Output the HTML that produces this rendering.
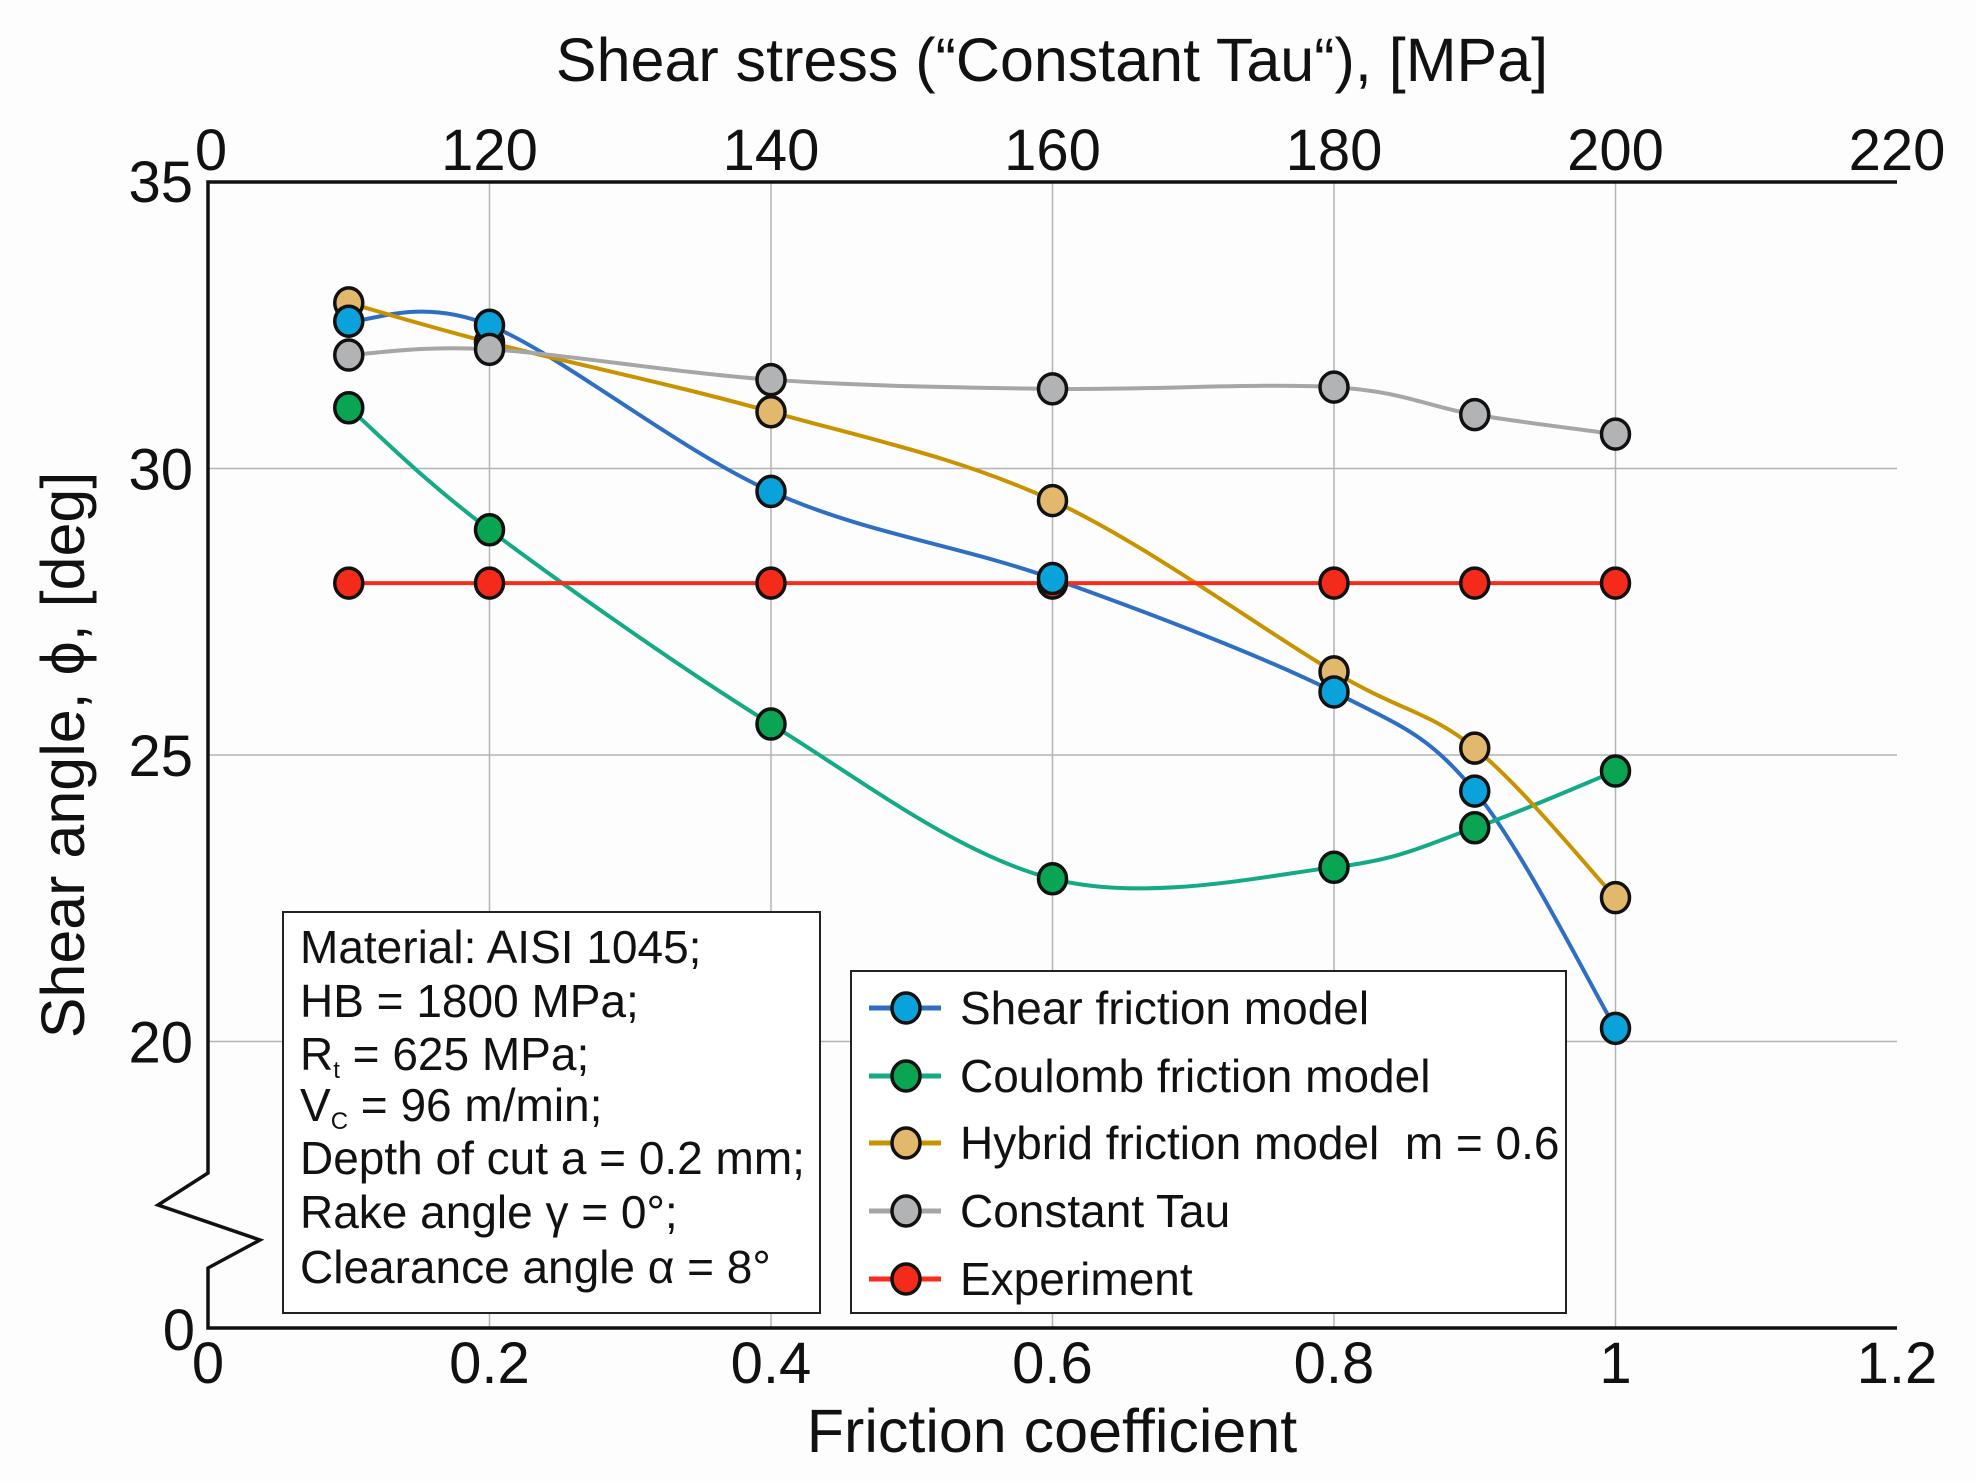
<!DOCTYPE html>
<html><head><meta charset="utf-8">
<style>
html,body{margin:0;padding:0;background:#fff;}
svg{display:block;font-family:"Liberation Sans",Arial,sans-serif;}
</style></head>
<body>
<svg id="chart" width="1976" height="1481" viewBox="0 0 1976 1481" xmlns="http://www.w3.org/2000/svg">
<rect x="0" y="0" width="1976" height="1481" fill="#fdfdfd"/>
<g id="grid"></g>
<g id="axes"></g>
<g id="series"></g>
<g id="info">
  <rect x="283" y="912" width="537" height="401" fill="#fff" stroke="#222" stroke-width="2"/>
  <text font-size="46" fill="#111">
    <tspan x="300" y="963">Material: AISI 1045;</tspan>
    <tspan x="300" y="1017">HB = 1800 MPa;</tspan>
    <tspan x="300" y="1070">R<tspan font-size="24" dy="8">t</tspan><tspan dy="-8"> = 625 MPa;</tspan></tspan>
    <tspan x="300" y="1121">V<tspan font-size="24" dy="8">C</tspan><tspan dy="-8"> = 96 m/min;</tspan></tspan>
    <tspan x="300" y="1174">Depth of cut a = 0.2 mm;</tspan>
    <tspan x="300" y="1228">Rake angle γ = 0°;</tspan>
    <tspan x="300" y="1283">Clearance angle α = 8°</tspan>
  </text>
</g>
<g id="legend">
  <rect x="851" y="971" width="715" height="342" fill="#fff" stroke="#222" stroke-width="2"/>
</g>
</svg>
<script>
const xTicks = [0, 0.2, 0.4, 0.6, 0.8, 1, 1.2];
const xTickLabels = ["0", "0.2", "0.4", "0.6", "0.8", "1", "1.2"];
const topTickLabels = ["0", "120", "140", "160", "180", "200", "220"];
const yTicks = [20, 25, 30, 35];
const yTickLabels = ["20", "25", "30", "35"];
const friction = [0.1, 0.2, 0.4, 0.6, 0.8, 0.9, 1.0];
const shearVals = [32.57, 32.5, 29.6, 28.08, 26.1, 24.37, 20.23];
const coulombVals = [31.06, 28.93, 25.54, 22.84, 23.04, 23.73, 24.72];
const hybridVals = [32.89, 32.2, 30.99, 29.44, 26.45, 25.12, 22.51];
const tauVals = [31.98, 32.08, 31.55, 31.39, 31.42, 30.94, 30.6];
const expVals = [28, 28, 28, 28, 28, 28, 28];
const seriesNames = ["Shear friction model", "Coulomb friction model", "Hybrid friction model\u00a0\u00a0m = 0.6", "Constant Tau", "Experiment"];

const NS = "http://www.w3.org/2000/svg";
const X0 = 208, PX = 281.5/0.2, Y35 = 182, PY = 286.5/5, YB = 1328, XR = 1897;
function xs(v){ return X0 + v*PX; }
function ys(v){ return Y35 + (35 - v)*PY; }
function mk(tag, attrs, parent){ const e=document.createElementNS(NS,tag); for(const k in attrs) e.setAttribute(k, attrs[k]); parent.appendChild(e); return e; }

const grid = document.getElementById('grid');
const axes = document.getElementById('axes');
xTicks.forEach((t,i)=>{
  if(i>0 && i<xTicks.length-1){
    const l = mk('line',{x1:xs(t),x2:xs(t),y1:Y35,y2:YB,stroke:'#b4b4b4','stroke-width':1.5},grid);
    
    
  }
  const tl = mk('text',{x:xs(t),y:1383,'font-size':58,'text-anchor':'middle',fill:'#111'},axes);
  tl.textContent = xTickLabels[i];
  
  
  const tt = mk('text',{x:xs(t)+(i===0?3:0),y:170,'font-size':58,'text-anchor':'middle',fill:'#111'},axes);
  tt.textContent = topTickLabels[i];
  
  
});
yTicks.forEach((t,i)=>{
  if(t<35){
    const l = mk('line',{x1:X0,x2:XR,y1:ys(t),y2:ys(t),stroke:'#b4b4b4','stroke-width':1.5},grid);
    
    
  }
  const tl = mk('text',{x:193,y:ys(t)+(t===35?20:21),'font-size':58,'text-anchor':'end',fill:'#111'},axes);
  tl.textContent = yTickLabels[i];
  
  
});
const y0 = mk('text',{x:195,y:1350,'font-size':58,'text-anchor':'end',fill:'#111'},axes);
y0.textContent='0';



const frame = mk('path',{d:`M${XR},${Y35} H${X0} V1173 L158,1205 L260,1240 L${X0},1268 V${YB} H${XR}`,fill:'none',stroke:'#111','stroke-width':3.5},axes);



const t1 = mk('text',{x:1052,y:81,'font-size':61,'text-anchor':'middle',fill:'#111'},axes);
t1.textContent='Shear stress (“Constant Tau“), [MPa]';


const t2 = mk('text',{x:1052,y:1452,'font-size':61,'text-anchor':'middle',fill:'#111'},axes);
t2.textContent='Friction coefficient';


const t3 = mk('text',{x:0,y:0,'font-size':61,'text-anchor':'middle',fill:'#111',transform:'translate(84,755) rotate(-90)'},axes);
t3.textContent='Shear angle, ϕ, [deg]';



function curve(pts){
  let d = `M${pts[0][0]},${pts[0][1]}`;
  for(let i=0;i<pts.length-1;i++){
    const p0=pts[i-1]||pts[i], p1=pts[i], p2=pts[i+1], p3=pts[i+2]||pts[i+1];
    const c1=[p1[0]+(p2[0]-p0[0])/6, p1[1]+(p2[1]-p0[1])/6];
    const c2=[p2[0]-(p3[0]-p1[0])/6, p2[1]-(p3[1]-p1[1])/6];
    d += ` C${c1[0]},${c1[1]} ${c2[0]},${c2[1]} ${p2[0]},${p2[1]}`;
  }
  return d;
}
const seriesG = document.getElementById('series');
const seriesDefs = [
  {vals:shearVals, line:'#2e6fc4', fill:'#0aa2da', key:'shear'},
  {vals:coulombVals, line:'#14aa86', fill:'#0aa552', key:'coulomb'},
  {vals:hybridVals, line:'#c99300', fill:'#e2b86c', key:'hybrid'},
  {vals:tauVals, line:'#a6a6a6', fill:'#b2b3b5', key:'constant-tau'},
  {vals:expVals, line:'#fb2b1b', fill:'#f42a1a', key:'experiment'}
];
seriesDefs.forEach(s=>{
  const pts = friction.map((f,i)=>[xs(f), ys(s.vals[i])]);
  const p = mk('path',{d:curve(pts),fill:'none',stroke:s.line,'stroke-width':4},seriesG);
  
  
});
[4,1,2,0,3].forEach(k=>{
  const s = seriesDefs[k];
  friction.forEach((f,i)=>{
    const c = mk('ellipse',{cx:xs(f),cy:ys(s.vals[i]),rx:14,ry:15,fill:s.fill,stroke:'#111','stroke-width':3.5},seriesG);
    
    
  });
});

const legend = document.getElementById('legend');
const legY = [1008, 1076, 1143, 1211, 1279];
seriesDefs.forEach((s,i)=>{
  const l = mk('line',{x1:869,x2:941,y1:legY[i],y2:legY[i],stroke:s.line,'stroke-width':5},legend);
  
  
  const c = mk('ellipse',{cx:906,cy:legY[i],rx:14,ry:15,fill:s.fill,stroke:'#111','stroke-width':3.5},legend);
  
  
  const t = mk('text',{x:960,y:legY[i]+16,'font-size':46,fill:'#111'},legend);
  t.textContent = seriesNames[i];
  
  
});
</script>
</body></html>
